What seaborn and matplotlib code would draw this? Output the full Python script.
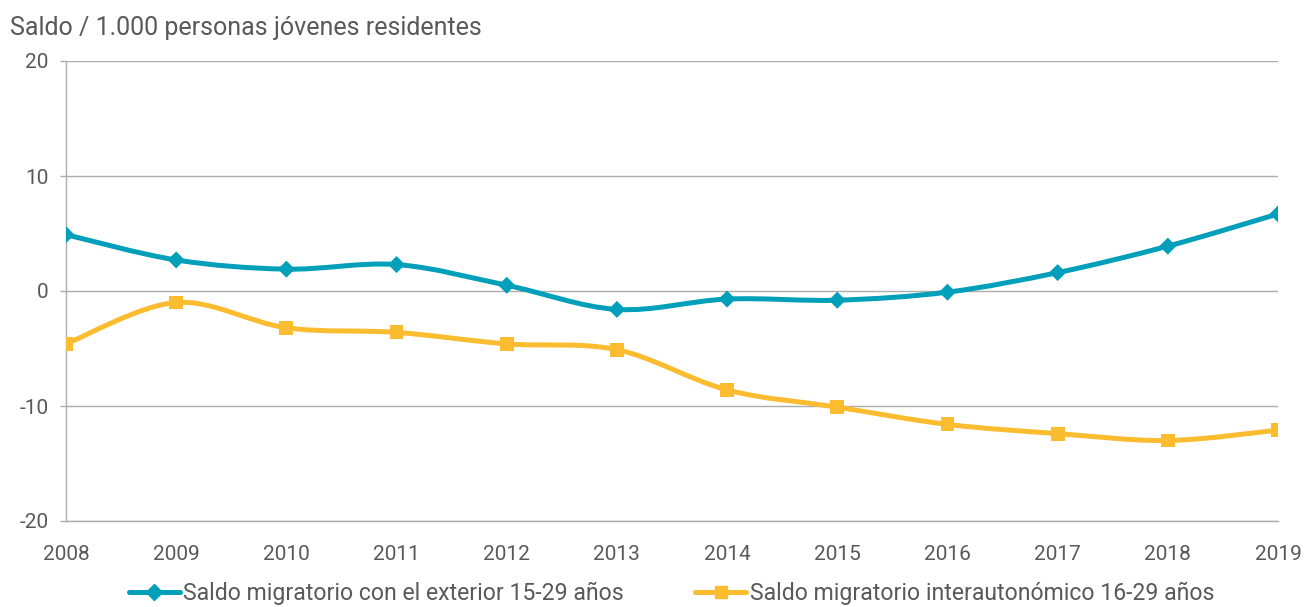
import numpy as np
import seaborn as sns
import matplotlib
matplotlib.use("Agg")
import matplotlib.pyplot as plt
from matplotlib.path import Path
from matplotlib.patches import PathPatch
from matplotlib.lines import Line2D

years = [2008, 2009, 2010, 2011, 2012, 2013, 2014, 2015, 2016, 2017, 2018, 2019]
exterior = [4.9, 2.7, 1.9, 2.3, 0.5, -1.6, -0.7, -0.8, -0.1, 1.6, 3.9, 6.7]
interauto = [-4.6, -1.0, -3.2, -3.6, -4.6, -5.1, -8.6, -10.1, -11.6, -12.4, -13.0, -12.1]
label_ext = "Saldo migratorio con el exterior 15-29 años"
label_int = "Saldo migratorio interautonómico 16-29 años"
ylabel = "Saldo / 1.000 personas jóvenes residentes"

blue = "#00A0BA"
yellow = "#FBBC2F"
grey_txt = "#595959"
grey_line = "#ADADAD"

sns.set_style("white")
plt.rcParams['font.family'] = ['Roboto', 'DejaVu Sans']
plt.rcParams['axes.unicode_minus'] = False


def smooth_path(xs, ys):
    # bezier a la Excel (catmull-rom, 1/6)
    pts = np.column_stack([xs, ys]).astype(float)
    n = len(pts)
    verts = [pts[0]]
    codes = [Path.MOVETO]
    for i in range(n - 1):
        p0 = pts[i - 1] if i > 0 else pts[i]
        p1 = pts[i]
        p2 = pts[i + 1]
        p3 = pts[i + 2] if i + 2 < n else pts[i + 1]
        c1 = p1 + (p2 - p0) / 6
        c2 = p2 - (p3 - p1) / 6
        verts += [c1, c2, p2]
        codes += [Path.CURVE4] * 3
    return Path(verts, codes)


fig = plt.figure(figsize=(13.04, 6.07), dpi=100)
ax = fig.add_axes([66 / 1304, 1 - 521 / 607, (1278 - 66) / 1304, (521 - 61) / 607])

for vals, col in [(exterior, blue), (interauto, yellow)]:
    ax.add_patch(PathPatch(smooth_path(years, vals), fill=False, edgecolor=col,
                           lw=3.6, capstyle='round', joinstyle='round', zorder=3))

sns.scatterplot(x=years, y=exterior, marker='D', s=75, color=blue, edgecolor='none',
                ax=ax, zorder=4, legend=False)
sns.scatterplot(x=years, y=interauto, marker='s', s=100, color=yellow, edgecolor='none',
                ax=ax, zorder=4, legend=False)

ax.set_xlim(2008, 2019)
ax.set_ylim(-20, 20)
ax.set_xticks(years)
ax.set_yticks([-20, -10, 0, 10, 20])
ax.yaxis.grid(True, color=grey_line, lw=1)
ax.set_axisbelow(True)
for s in ['top', 'right']:
    ax.spines[s].set_visible(False)
for s in ['left', 'bottom']:
    ax.spines[s].set_color(grey_line)
    ax.spines[s].set_linewidth(1)
ax.tick_params(axis='y', length=4.5, color=grey_line, width=1, pad=8,
               labelsize=15, labelcolor=grey_txt, left=True)
ax.tick_params(axis='x', length=0, pad=17, labelsize=15, labelcolor=grey_txt)
ax.set_xlabel("")
ax.set_ylabel("")

fig.text(10 / 1304, 1 - 28 / 607, ylabel, fontsize=18, color=grey_txt,
         ha='left', va='center')

handles = [
    Line2D([], [], color=blue, lw=3.6, marker='D', markersize=8),
    Line2D([], [], color=yellow, lw=3.6, marker='s', markersize=9),
]
fig.legend(handles, [label_ext, label_int], loc='center', bbox_to_anchor=(0.515, 0.022),
           ncol=2, frameon=False, fontsize=16.6, labelcolor=grey_txt,
           handlelength=2.2, handletextpad=0.15, columnspacing=3.1,
           borderpad=0, borderaxespad=0)

fig.savefig("out.png", dpi=100)
